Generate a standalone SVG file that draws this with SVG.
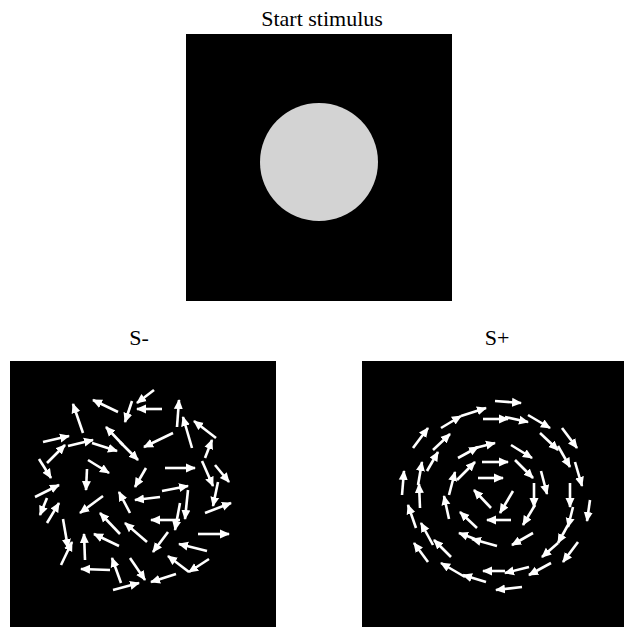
<svg xmlns="http://www.w3.org/2000/svg" width="624" height="627" viewBox="0 0 624 627">
<style>
.lbl{font-family:'Liberation Serif','Times New Roman',serif;font-size:22px;fill:#000;text-anchor:middle}
.panel{fill:#000}
.a line{stroke:#fff;stroke-width:2.6;marker-end:url(#ah)}
</style>
<defs>
<marker id="ah" markerWidth="11" markerHeight="11" refX="9" refY="5" orient="auto" markerUnits="userSpaceOnUse">
<path d="M0,0.5 L10,5 L0,9.5 z" fill="#fff"/>
</marker>
</defs>
<rect width="624" height="627" fill="#fff"/>
<g id="start">
<text class="lbl" x="322" y="26">Start stimulus</text>
<rect class="panel" x="186" y="34" width="266" height="267"/>
<circle cx="319" cy="162" r="59" fill="#d3d3d3"/>
</g>
<g id="s-minus">
<text class="lbl" x="139" y="345">S-</text>
<rect class="panel" x="10" y="361" width="266" height="266"/>
<g class="a">
<line x1="83" y1="433" x2="73" y2="404"/>
<line x1="118" y1="412" x2="93" y2="400"/>
<line x1="132" y1="401" x2="125" y2="422"/>
<line x1="43" y1="442" x2="69" y2="436"/>
<line x1="68" y1="446" x2="93" y2="440"/>
<line x1="92" y1="443" x2="117" y2="451"/>
<line x1="47" y1="463" x2="65" y2="445"/>
<line x1="123" y1="445" x2="106" y2="427"/>
<line x1="120" y1="442" x2="138" y2="460"/>
<line x1="39" y1="459" x2="51" y2="478"/>
<line x1="88" y1="460" x2="109" y2="473"/>
<line x1="87" y1="469" x2="86" y2="490"/>
<line x1="154" y1="390" x2="137" y2="403"/>
<line x1="162" y1="409" x2="137" y2="409"/>
<line x1="177" y1="427" x2="179" y2="400"/>
<line x1="192" y1="448" x2="183" y2="417"/>
<line x1="216" y1="438" x2="194" y2="421"/>
<line x1="173" y1="433" x2="144" y2="447"/>
<line x1="205" y1="458" x2="212" y2="440"/>
<line x1="165" y1="468" x2="195" y2="468"/>
<line x1="202" y1="461" x2="213" y2="486"/>
<line x1="215" y1="465" x2="229" y2="482"/>
<line x1="146" y1="468" x2="135" y2="487"/>
<line x1="162" y1="491" x2="188" y2="486"/>
<line x1="35" y1="497" x2="59" y2="485"/>
<line x1="47" y1="498" x2="40" y2="515"/>
<line x1="47" y1="523" x2="59" y2="503"/>
<line x1="103" y1="496" x2="80" y2="513"/>
<line x1="130" y1="513" x2="119" y2="492"/>
<line x1="120" y1="534" x2="100" y2="513"/>
<line x1="147" y1="542" x2="125" y2="523"/>
<line x1="63" y1="519" x2="68" y2="548"/>
<line x1="61" y1="565" x2="72" y2="542"/>
<line x1="85" y1="560" x2="84" y2="534"/>
<line x1="119" y1="546" x2="94" y2="534"/>
<line x1="110" y1="570" x2="81" y2="569"/>
<line x1="121" y1="583" x2="112" y2="558"/>
<line x1="113" y1="590" x2="139" y2="583"/>
<line x1="130" y1="558" x2="145" y2="580"/>
<line x1="160" y1="497" x2="135" y2="500"/>
<line x1="188" y1="490" x2="185" y2="519"/>
<line x1="218" y1="482" x2="213" y2="506"/>
<line x1="205" y1="513" x2="231" y2="503"/>
<line x1="180" y1="503" x2="175" y2="530"/>
<line x1="180" y1="520" x2="151" y2="520"/>
<line x1="168" y1="532" x2="153" y2="552"/>
<line x1="198" y1="534" x2="229" y2="534"/>
<line x1="207" y1="551" x2="179" y2="544"/>
<line x1="209" y1="559" x2="189" y2="572"/>
<line x1="189" y1="572" x2="168" y2="556"/>
<line x1="176" y1="574" x2="151" y2="582"/>
</g>
</g>
<g id="s-plus">
<text class="lbl" x="497" y="345">S+</text>
<rect class="panel" x="362" y="361" width="266" height="266"/>
<g class="a">
<line x1="441" y1="428" x2="461" y2="416"/>
<line x1="461" y1="416" x2="486" y2="408"/>
<line x1="483" y1="419" x2="508" y2="419"/>
<line x1="495" y1="401" x2="521" y2="403"/>
<line x1="413" y1="448" x2="428" y2="428"/>
<line x1="433" y1="450" x2="450" y2="434"/>
<line x1="458" y1="458" x2="478" y2="447"/>
<line x1="475" y1="448" x2="495" y2="443"/>
<line x1="427" y1="471" x2="438" y2="452"/>
<line x1="418" y1="485" x2="422" y2="462"/>
<line x1="402" y1="495" x2="404" y2="471"/>
<line x1="457" y1="480" x2="475" y2="462"/>
<line x1="449" y1="495" x2="455" y2="472"/>
<line x1="482" y1="462" x2="508" y2="462"/>
<line x1="478" y1="478" x2="503" y2="478"/>
<line x1="420" y1="508" x2="419" y2="484"/>
<line x1="505" y1="417" x2="528" y2="422"/>
<line x1="528" y1="415" x2="550" y2="428"/>
<line x1="540" y1="433" x2="558" y2="450"/>
<line x1="562" y1="428" x2="577" y2="448"/>
<line x1="511" y1="445" x2="532" y2="458"/>
<line x1="558" y1="446" x2="570" y2="467"/>
<line x1="515" y1="460" x2="533" y2="478"/>
<line x1="541" y1="471" x2="547" y2="494"/>
<line x1="575" y1="462" x2="582" y2="486"/>
<line x1="534" y1="483" x2="534" y2="507"/>
<line x1="570" y1="483" x2="570" y2="507"/>
<line x1="449" y1="519" x2="444" y2="496"/>
<line x1="491" y1="508" x2="474" y2="490"/>
<line x1="416" y1="528" x2="408" y2="505"/>
<line x1="477" y1="528" x2="460" y2="512"/>
<line x1="511" y1="520" x2="487" y2="520"/>
<line x1="433" y1="545" x2="421" y2="523"/>
<line x1="451" y1="557" x2="434" y2="540"/>
<line x1="428" y1="562" x2="414" y2="543"/>
<line x1="475" y1="539" x2="459" y2="533"/>
<line x1="497" y1="546" x2="472" y2="539"/>
<line x1="465" y1="577" x2="441" y2="563"/>
<line x1="486" y1="582" x2="463" y2="575"/>
<line x1="505" y1="571" x2="483" y2="571"/>
<line x1="513" y1="491" x2="500" y2="513"/>
<line x1="535" y1="505" x2="523" y2="525"/>
<line x1="573" y1="507" x2="568" y2="527"/>
<line x1="590" y1="500" x2="587" y2="521"/>
<line x1="533" y1="533" x2="512" y2="545"/>
<line x1="568" y1="525" x2="558" y2="543"/>
<line x1="558" y1="543" x2="542" y2="557"/>
<line x1="578" y1="542" x2="563" y2="562"/>
<line x1="551" y1="563" x2="529" y2="575"/>
<line x1="529" y1="567" x2="505" y2="573"/>
<line x1="522" y1="587" x2="496" y2="590"/>
</g>
</g>
</svg>
